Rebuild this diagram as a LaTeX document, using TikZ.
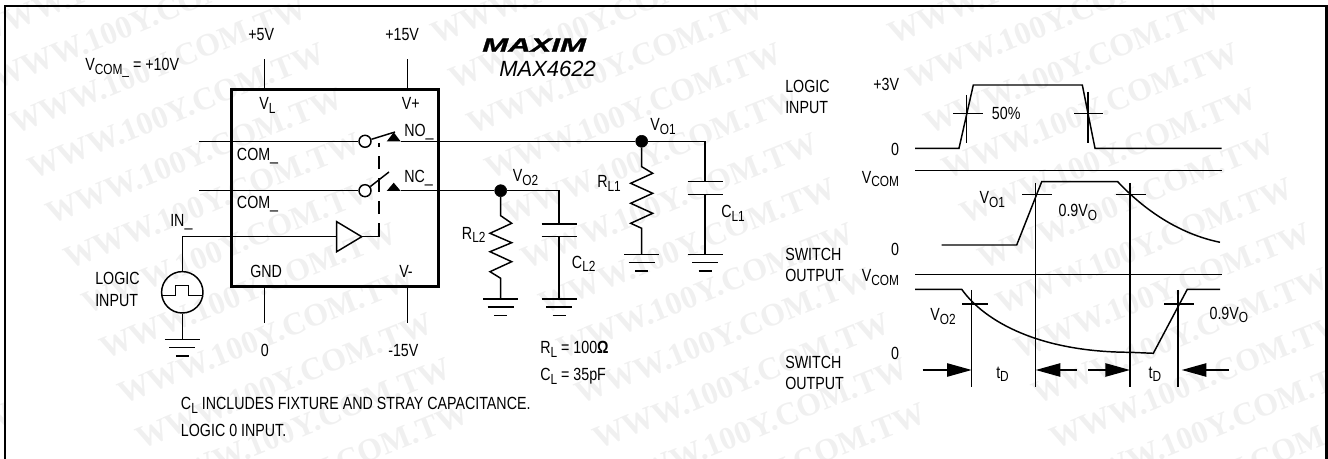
\documentclass[tikz,border=0pt]{standalone}
\usepackage{fontspec}
\setmainfont[FakeStretch=0.81]{Liberation Sans}
\newfontfamily\logofont[FakeStretch=1.62,FakeBold=1.5]{Liberation Sans}
\newfontfamily\partfont{Liberation Sans}
\newfontfamily\markfont{Liberation Serif}
\usetikzlibrary{arrows.meta}
\newcommand{\lowtxt}[1]{\raisebox{-2.6pt}{\fontsize{11}{11}\selectfont #1}}
\newcommand{\gndsym}[1]{%
  \draw[wire] (#1) ++(-17.5,0) -- ++(35,0);
  \draw[wire] (#1) ++(-13,8) -- ++(26,0);
  \draw[wire] (#1) ++(-6.5,16.5) -- ++(13,0);
}
\tikzset{
  wire/.style={line width=1.1pt},
  chipbox/.style={line width=2.3pt},
  lab/.style={inner sep=0pt,anchor=base west,font=\fontsize{13.2}{15}\selectfont},
  labr/.style={lab,anchor=base east},
  dotnode/.style={circle,fill=black,draw=black,inner sep=0pt,minimum size=12*0.75pt},
  ringnode/.style={circle,fill=white,draw=black,line width=1.1pt,inner sep=0pt,minimum size=12*0.75pt},
  bigarrow/.style={wire,-{Triangle[length=18.5pt,width=10pt]}},
  stampmark/.style={inner sep=0pt,rotate=22,text=black!6,font=\markfont\bfseries\fontsize{24}{24}\selectfont},
}
\begin{document}
\begin{tikzpicture}[x=0.75pt,y=0.75pt,yscale=-1,xscale=1]
\useasboundingbox (0,0) rectangle (1328,459);

% stamp behind the drawing
\foreach \r in {-3,...,8}
  \foreach \c in {-1,...,3}
    \node[stampmark] (st\r\c) at ({176+\c*457+\r*18},{111+\r*45}) {WWW.100Y.COM.TW};

% frame
\draw[line width=1.6pt] (5,459) -- (5,6) -- (1326.5,6) -- (1326.5,459);

% chip
\draw[chipbox] (231.7,89.3) rectangle (438.7,286.7);
\coordinate (pinvl) at (264.7,89.3);
\coordinate (pinvp) at (407.3,89.3);
\coordinate (pingnd) at (264.7,286.7);
\coordinate (pinvm) at (407.3,286.7);
\coordinate (vlend) at (264.7,59.5);
\coordinate (vpend) at (407.3,59.5);
\coordinate (gndend) at (264.7,323);
\coordinate (vmend) at (407.3,323);
\draw[wire] (vlend) -- (pinvl);
\draw[wire] (vpend) -- (pinvp);
\draw[wire] (pingnd) -- (gndend);
\draw[wire] (pinvm) -- (vmend);

% switches
\coordinate (comone) at (199,141.3);
\coordinate (comtwo) at (199,190.7);
\node[ringnode] (ringone) at (365,141.3) {};
\node[ringnode] (ringtwo) at (365,190.7) {};
\draw[wire] (comone) -- (ringone);
\draw[wire] (comtwo) -- (ringtwo);
\coordinate (armone) at (395,132);
\coordinate (armtwo) at (389,172);
\draw[wire] (ringone) -- (armone);
\draw[wire] (ringtwo) -- (armtwo);
\fill (386.7,141.5) -- (393.7,132.3) -- (400.7,141.5) -- cycle;
\fill (386.7,191) -- (393.7,182.7) -- (400.7,191) -- cycle;

% buffer and source
\node[wire,circle,draw,inner sep=0pt,minimum size=41.4*0.75pt] (src) at (182.3,292.3) {};
\coordinate (bufin) at (336.7,236.7);
\coordinate (bufout) at (361.7,236.7);
\coordinate (ctrlend) at (379,236.7);
\coordinate (ctrltop) at (379,143);
\coordinate (srctop) at (182.3,236.7);
\coordinate (srcgnd) at (182.3,339.3);
\draw[wire] (bufin) -- (336.7,221.7) -- (bufout) -- (336.7,251.7) -- cycle;
\draw[wire] (src) -- (srctop) -- (bufin);
\draw[wire] (bufout) -- (ctrlend);
\draw[line width=0.9pt,dash pattern={on 13.5*0.75pt off 9*0.75pt}] (ctrlend) -- (ctrltop);
\draw[wire] (src) -- (srcgnd);
\gndsym{srcgnd}
\draw[wire] (161.7,295.7) -- (175.7,295.7) -- (175.7,285.7) -- (188.3,285.7) -- (188.3,295.7) -- (203,295.7);

% load one
\node[dotnode] (vo1) at (641.7,141.3) {};
\coordinate (noout) at (400.7,141.3);
\coordinate (cone) at (705,141.3);
\coordinate (conetop) at (705,181.7);
\coordinate (conebot) at (705,194.3);
\coordinate (conegnd) at (705,254.3);
\coordinate (ronegnd) at (641.7,254.3);
\draw[wire] (noout) -- (vo1) -- (cone) -- (conetop);
\draw[wire] (687.5,181.7) -- (722.5,181.7);
\draw[wire] (687.5,194.3) -- (722.5,194.3);
\draw[wire] (conebot) -- (conegnd);
\gndsym{conegnd}
\draw[wire] (vo1) -- (641.7,166.7) -- (652.7,173.3) -- (630.7,183.3) -- (652.7,193.3) -- (630.7,203.3) -- (652.7,213.3) -- (630.7,223.3) -- (641.7,228.3) -- (ronegnd);
\gndsym{ronegnd}

% load two
\node[dotnode] (vo2) at (500.7,190.7) {};
\coordinate (ncout) at (400.7,190.7);
\coordinate (ctwo) at (559,190.7);
\coordinate (ctwotop) at (559,224);
\coordinate (ctwobot) at (559,236.7);
\coordinate (ctwognd) at (559,299);
\coordinate (rtwognd) at (500.7,299);
\draw[wire] (ncout) -- (vo2) -- (ctwo) -- (ctwotop);
\draw[wire] (541.7,224) -- (576.7,224);
\draw[wire] (541.7,236.7) -- (576.7,236.7);
\draw[wire] (ctwobot) -- (ctwognd);
\gndsym{ctwognd}
\draw[wire] (vo2) -- (500.7,215.7) -- (511.7,223.3) -- (490,233.3) -- (511.7,242.7) -- (490,251.7) -- (511.7,261.7) -- (490,271.7) -- (500.7,278.3) -- (rtwognd);
\gndsym{rtwognd}

% circuit labels
\node[lab] (vcomset) at (85,70.7) {V\lowtxt{COM\_} = +10V};
\node[lab] (vfive) at (248,40.7) {+5V};
\node[lab] (vfifteen) at (385,40.7) {+15V};
\node[lab] (vllab) at (259,110) {V\lowtxt{L}};
\node[lab] (vplab) at (401.7,110) {V+};
\node[lab] (nolab) at (404,137) {NO\_};
\node[lab] (nclab) at (404,183) {NC\_};
\node[lab] (comlabone) at (236.7,160.7) {COM\_};
\node[lab] (comlabtwo) at (236.7,209) {COM\_};
\node[lab] (inlab) at (170,226.7) {IN\_};
\node[lab] (logica) at (95,285) {LOGIC};
\node[lab] (inputa) at (95,307) {INPUT};
\node[lab] (gndlab) at (250,278) {GND};
\node[lab] (vmlab) at (399,278) {V-};
\node[lab] (zeroa) at (260.5,356.7) {0};
\node[lab] (vneg) at (388,356.7) {-15V};
\node[lab] (notea) at (180.7,410) {C\lowtxt{L} INCLUDES FIXTURE AND STRAY CAPACITANCE.};
\node[lab] (noteb) at (180.7,436.7) {LOGIC 0 INPUT.};
\node[lab,font=\logofont\bfseries\itshape\fontsize{14.4}{14.4}\selectfont] (logo) at (482,51.7) {MAXIM};
\node[lab,font=\partfont\itshape\fontsize{16.5}{17}\selectfont] (partno) at (499,76.7) {MAX4622};
\node[lab] (vo1lab) at (650,130.7) {V\lowtxt{O1}};
\node[lab] (vo2lab) at (512.7,181.7) {V\lowtxt{O2}};
\node[lab] (rl1lab) at (597,187.7) {R\lowtxt{L1}};
\node[lab] (cl1lab) at (721,217.7) {C\lowtxt{L1}};
\node[lab] (rl2lab) at (461.7,239.3) {R\lowtxt{L2}};
\node[lab] (cl2lab) at (571.7,268.3) {C\lowtxt{L2}};
\node[lab] (rlval) at (540,354) {R\lowtxt{L} = 100\textbf{Ω}};
\node[lab] (clval) at (540,381) {C\lowtxt{L} = 35pF};

% waveforms
\draw[wire] (915,148.3) -- (959,148.3) -- (973.3,85) -- (1082.3,85) -- (1095,148.3) -- (1221.7,148.3);
\draw[wire] (966.7,95) -- (966.7,143.3);
\draw[wire] (953.3,113.3) -- (982.7,113.3);
\draw[wire] (1088,91.7) -- (1088,143.3);
\draw[wire] (1074,113.3) -- (1103.3,113.3);
\draw[wire] (915,170.7) -- (1221.7,170.7);
\draw[wire] (941.7,245) -- (1016.7,245) -- (1041.7,181.7) -- (1117.7,181.7) .. controls (1135,200) and (1170,232) .. (1220,242.3);
\draw[wire] (1035.7,183) -- (1035.7,387.3);
\draw[wire] (1130,183) -- (1130,387.3);
\draw[wire] (1022.3,194.3) -- (1051.7,194.3);
\draw[wire] (1115.7,194.3) -- (1145.7,194.3);
\draw[wire] (915,274.3) -- (1221.7,274.3);
\draw[wire] (915,289.3) -- (961.7,289.3) .. controls (985,322) and (1040,352) .. (1130,352.3) -- (1153.3,353.3) -- (1187.3,289.3) -- (1220,289.3);
\draw[wire] (971.7,290) -- (971.7,387.3);
\draw[wire] (1178,290) -- (1178,387.3);
\draw[wire] (962,304) -- (987.7,304);
\draw[wire] (1164.3,304) -- (1194,304);

% delay arrows
\coordinate (tdaw) at (922.7,370);
\coordinate (tdae) at (971.7,370);
\coordinate (tdbw) at (1035.7,370);
\coordinate (tdbe) at (1076.7,370);
\coordinate (tdcw) at (1088.3,370);
\coordinate (tdce) at (1130,370);
\coordinate (tddw) at (1181.7,370);
\coordinate (tdde) at (1229,370);
\draw[bigarrow] (tdaw) -- (tdae);
\draw[bigarrow] (tdbe) -- (tdbw);
\draw[bigarrow] (tdcw) -- (tdce);
\draw[bigarrow] (tdde) -- (tddw);

% waveform labels
\node[lab] (logicb) at (785,92.3) {LOGIC};
\node[lab] (inputb) at (785,114) {INPUT};
\node[labr] (plusthree) at (899.3,90.7) {+3V};
\node[labr] (zerob) at (899.3,156) {0};
\node[lab] (halflab) at (991.7,120) {50\%};
\node[labr] (vcomtop) at (899.3,183.3) {V\lowtxt{COM}};
\node[lab] (vo1wave) at (979.3,204) {V\lowtxt{O1}};
\node[lab] (ninetya) at (1058.3,216.7) {0.9V\lowtxt{O}};
\node[labr] (zeroc) at (899.3,256) {0};
\node[lab] (switcha) at (785,260.7) {SWITCH};
\node[lab] (outputa) at (785,281.7) {OUTPUT};
\node[labr] (vcombot) at (899.3,281.7) {V\lowtxt{COM}};
\node[lab] (vo2wave) at (930,320.7) {V\lowtxt{O2}};
\node[lab] (ninetyb) at (1209.3,319.3) {0.9V\lowtxt{O}};
\node[labr] (zerod) at (899.3,360) {0};
\node[lab] (switchb) at (785,368.3) {SWITCH};
\node[lab] (outputb) at (785,390) {OUTPUT};
\node[lab] (tda) at (996,378.3) {t\lowtxt{D}};
\node[lab] (tdb) at (1148.3,378.3) {t\lowtxt{D}};

\end{tikzpicture}
\end{document}
